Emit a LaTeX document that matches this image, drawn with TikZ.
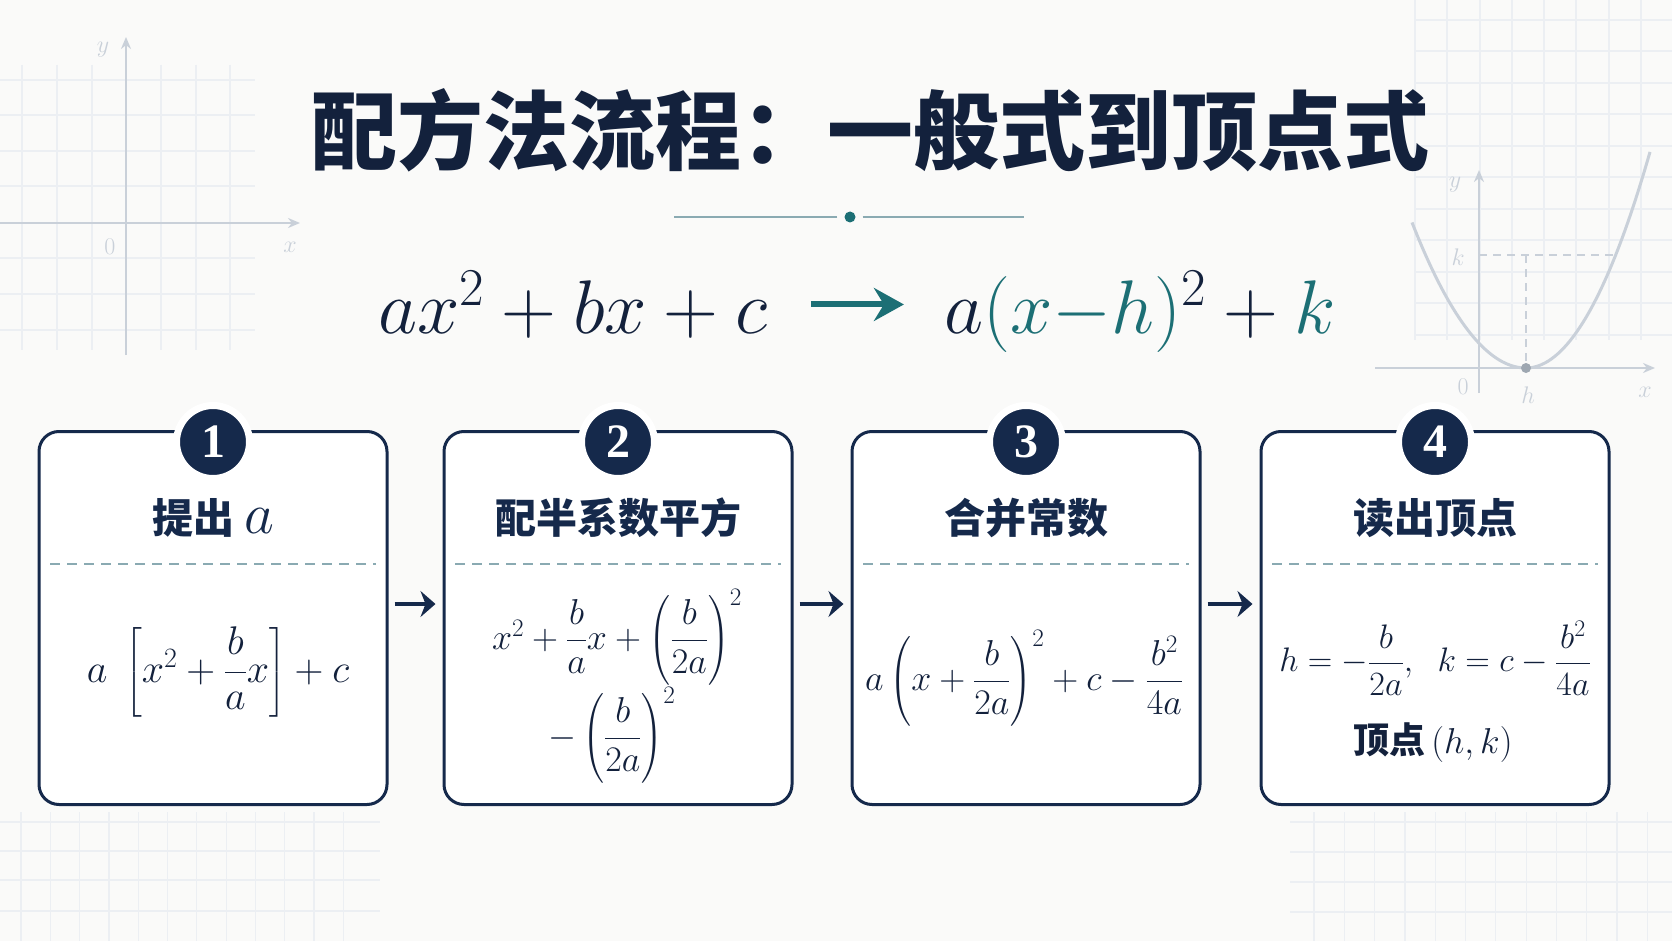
\RequirePackage{fix-cm}
\documentclass[tikz,border=0pt]{standalone}
\usepackage{amsmath}
\usepackage{fontspec}
\usetikzlibrary{arrows.meta,positioning,calc}
\newfontfamily\cjk{Noto Sans CJK SC}
\newfontfamily\numfont{Liberation Serif}
\definecolor{ink}{HTML}{13213C}
\definecolor{navy}{HTML}{15294B}
\definecolor{deepteal}{HTML}{1C6F75}
\definecolor{rule}{HTML}{8AAAB2}
\definecolor{paper}{HTML}{FAFAF9}
\definecolor{gridc}{HTML}{ECEFF3}
\definecolor{axisc}{HTML}{C9D0D9}
\definecolor{dotc}{HTML}{9EA7B1}

\begin{document}
\begin{tikzpicture}[x=1pt,y=-1pt,
  gridline/.style={draw=gridc, line width=1.2pt},
  axisline/.style={draw=axisc, line width=2pt},
  axislabel/.style={font=\fontsize{24}{24}\selectfont, text=axisc, inner sep=0pt},
  stepbox/.style={draw=navy, fill=white, line width=3pt, rounded corners=20pt,
    minimum width=348pt, minimum height=373pt},
  badge/.style={circle, fill=navy, draw=white, line width=7pt, minimum size=73pt,
    inner sep=0pt, text=white, font=\numfont\bfseries\fontsize{48}{48}\selectfont},
  steptitle/.style={font=\cjk\bfseries\fontsize{41}{44}\selectfont, text=navy, inner sep=0pt},
  sepline/.style={draw=rule, line width=2pt, dash pattern=on 10pt off 7pt},
  stepmath/.style={font=\fontsize{36}{40}\selectfont, text=ink, inner sep=0pt},
  flowarrow/.style={draw=navy, line width=4.5pt, -{Stealth[length=15pt,width=26pt,inset=5pt]},
    shorten <=6pt, shorten >=7pt}]
  \fill[paper] (0,0) rectangle (1672,941);
  \useasboundingbox (0,0) rectangle (1672,941);

  % faint grid paper in the corners
  \foreach \gx in {22,57,92,161,196,230} \draw[gridline] (\gx,65) -- (\gx,350);
  \foreach \gy in {80,115,151,186,258,294,330} \draw[gridline] (0,\gy) -- (255,\gy);
  \foreach \gx in {1415,1447,1480,1512,1544,1576,1609,1641} \draw[gridline] (\gx,0) -- (\gx,340);
  \foreach \gy in {20,51,83,114,146,177,209,240,272,303,335} \draw[gridline] (1415,\gy) -- (1672,\gy);
  \foreach \gx in {21,50.3,...,372} \draw[gridline] (\gx,812) -- (\gx,941);
  \foreach \gy in {822,851,880,911} \draw[gridline] (0,\gy) -- (380,\gy);
  \foreach \gx in {1314,1344.3,...,1660} \draw[gridline] (\gx,812) -- (\gx,941);
  \foreach \gy in {822,852,882,912} \draw[gridline] (1290,\gy) -- (1672,\gy);

  % left axes
  \draw[axisline, -{Stealth[length=12pt,width=10pt]}] (126,355) -- (126,37);
  \draw[axisline, -{Stealth[length=12pt,width=10pt]}] (0,223) -- (300,223);
  \node[axislabel] (ly) at (103,50) {$y$};
  \node[axislabel] (lo) at (110,247) {$0$};
  \node[axislabel] (lx) at (290,247) {$x$};

  % right parabola sketch
  \draw[axisline, -{Stealth[length=12pt,width=10pt]}] (1375,368) -- (1655,368);
  \draw[axisline, -{Stealth[length=12pt,width=10pt]}] (1479,393) -- (1479,170);
  \draw[axisline, line width=3pt] plot[domain=-114:0, samples=40] ({1526+\x},{368-0.0112*\x*\x});
  \draw[axisline, line width=3pt] plot[domain=0:124, samples=40] ({1526+\x},{368-0.01405*\x*\x});
  \draw[axisline, dash pattern=on 8pt off 6pt] (1479,255) -- (1616,255);
  \draw[axisline, dash pattern=on 8pt off 6pt] (1526,255) -- (1526,368);
  \node[circle, fill=dotc, inner sep=0pt, minimum size=10pt] (vx) at (1526,368) {};
  \node[axislabel] (ry) at (1455,185) {$y$};
  \node[axislabel] (rk) at (1458,257) {$k$};
  \node[axislabel] (ro) at (1463,387) {$0$};
  \node[axislabel] (rh) at (1528,395) {$h$};
  \node[axislabel] (rx) at (1645,392) {$x$};

  % heading
  \node[font=\cjk\bfseries\fontsize{86}{90}\selectfont, text=ink] (title) at (870,130) {配方法流程：一般式到顶点式};
  \node[circle, fill=deepteal, inner sep=0pt, minimum size=11pt] (mid) at (850,217) {};
  \coordinate (ruleL) at (674,217);
  \coordinate (ruleR) at (1024,217);
  \draw[rule, line width=2pt] ([xshift=-7pt]mid.west) -- (ruleL);
  \draw[rule, line width=2pt] ([xshift=7pt]mid.east) -- (ruleR);

  \node[font=\fontsize{76}{80}\selectfont, text=ink, inner sep=0pt, anchor=base] (general) at (573,333) {$ax^2+bx+c$};
  \node[font=\fontsize{76}{80}\selectfont, text=ink, inner sep=0pt, anchor=base] (vertex) at (1140,333)
    {$a{\color{deepteal}(x{-}h)}^2+{\color{deepteal}k}$};
  \draw[deepteal, line width=6pt, -{Stealth[length=30pt,width=33pt,inset=10pt]},
    shorten <=43pt, shorten >=40pt] (general.east) -- (general.east -| vertex.west);

  % four steps
  \foreach \i/\cx/\head in {1/213/{提出\hspace{10pt}{\fontsize{58}{58}\selectfont$a$}},
      2/618/配半系数平方, 3/1026/合并常数, 4/1435/读出顶点}
  {
    \node[stepbox] (box\i) at (\cx,618) {};
    \draw[sepline] (\cx-163,564) -- (\cx+163,564);
    \node[badge] (badge\i) at (\cx,442) {\i};
    \node[steptitle] (head\i) at (\cx,518) {\head};
  }
  \foreach \a/\b in {1/2,2/3,3/4}
    \draw[flowarrow] ([yshift=14pt]box\a.east) -- ([yshift=14pt]box\b.west);

  \node[stepmath, font=\fontsize{40}{44}\selectfont] (body1) at (218,672) {$a\;\left[x^2+\dfrac{b}{a}x\right]+c$};
  \node[stepmath] (body2a) at (617,637) {$x^2+\dfrac{b}{a}x+\left(\dfrac{b}{2a}\right)^2$};
  \node[stepmath] (body2b) at (612,735) {$-\left(\dfrac{b}{2a}\right)^2$};
  \node[stepmath] (body3) at (1024,678) {$a\left(x+\dfrac{b}{2a}\right)^2+c-\dfrac{b^2}{4a}$};
  \node[stepmath, font=\fontsize{34}{38}\selectfont] (body4a) at (1435,658) {$h=-\dfrac{b}{2a},\;\; k=c-\dfrac{b^2}{4a}$};
  \node[stepmath] (body4b) at (1433,743) {{\cjk\bfseries 顶点}\,$(h,k)$};
\end{tikzpicture}
\end{document}
